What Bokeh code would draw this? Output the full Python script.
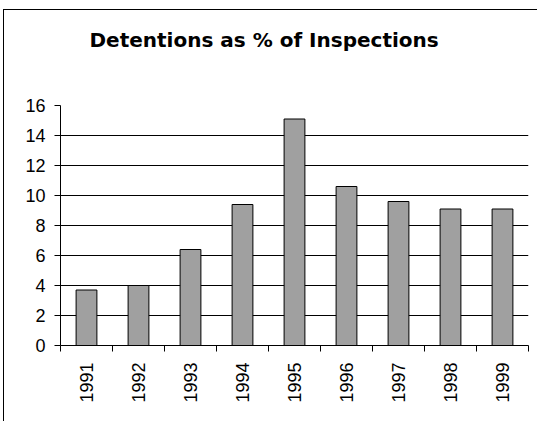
import math

from bokeh.embed import file_html
from bokeh.models import FixedTicker, Grid, Range1d, Title
from bokeh.plotting import figure
from bokeh.resources import INLINE

# Detention rate per year, in percent of inspections
years = [1991, 1992, 1993, 1994, 1995, 1996, 1997, 1998, 1999]
detention_pct = [3.7, 4.0, 6.4, 9.4, 15.1, 10.6, 9.6, 9.1, 9.1]
y_ticks = [0, 2, 4, 6, 8, 10, 12, 14, 16]

title_text = "Detentions as % of Inspections"

p = figure(
    width=534,
    height=412,
    title=None,
    x_range=Range1d(years[0] - 0.5, years[-1] + 0.5),
    y_range=Range1d(y_ticks[0], y_ticks[-1]),
    output_backend="svg",
    toolbar_location=None,
    min_border_left=56,
    min_border_right=10,
    min_border_top=95,
    min_border_bottom=77,
    background_fill_color="white",
    border_fill_color="white",
)
# chart-area frame: thin black edge on the left and top
p.styles = {
    "margin-left": "3px",
    "margin-top": "9px",
    "border-left": "1px solid black",
    "border-top": "1px solid black",
}

# blank spacer title next to the frame lifts the real title higher up
p.add_layout(Title(text=" ", text_font="DejaVu Sans", text_font_size="20px",
                   standoff=28), "above")
p.add_layout(Title(text=title_text, text_font="DejaVu Sans",
                   text_font_style="bold", text_font_size="20px",
                   text_color="black", align="left", offset=29, standoff=0),
             "above")

p.outline_line_color = None

# bars
p.vbar(x=years, top=detention_pct, width=0.4,
       fill_color="#A0A0A0", line_color="black", line_width=1)

# x axis: labels under each bar, tick marks between categories
bounds = [y - 0.5 for y in years] + [years[-1] + 0.5]
xa = p.xaxis[0]
xa.ticker = FixedTicker(ticks=years, minor_ticks=bounds)
xa.major_tick_out = 0
xa.major_tick_in = 0
xa.minor_tick_out = 6
xa.minor_tick_in = 0
xa.minor_tick_line_color = "black"
xa.axis_line_color = "black"
xa.major_label_orientation = math.pi / 2
xa.major_label_standoff = 11
xa.major_label_text_font = "Liberation Sans"
xa.major_label_text_font_size = "18px"
xa.major_label_text_color = "black"

# y axis
ya = p.yaxis[0]
ya.ticker = FixedTicker(ticks=y_ticks)
ya.major_tick_out = 6
ya.major_tick_in = 0
ya.minor_tick_out = 0
ya.minor_tick_in = 0
ya.major_tick_line_color = "black"
ya.axis_line_color = "black"
ya.major_label_standoff = 9
ya.major_label_text_font = "Liberation Sans"
ya.major_label_text_font_size = "18px"
ya.major_label_text_color = "black"

# gridlines
p.xgrid.visible = False
p.ygrid.ticker = FixedTicker(ticks=y_ticks[:-1])
p.ygrid.grid_line_color = "black"
p.ygrid.grid_line_width = 1

# grey plot-area edge on top and right
p.add_layout(Grid(dimension=1, ticker=FixedTicker(ticks=[y_ticks[-1]]),
                  grid_line_color="#8C8C8C", grid_line_width=2))
p.add_layout(Grid(dimension=0, ticker=FixedTicker(ticks=[years[-1] + 0.5]),
                  grid_line_color="#8C8C8C", grid_line_width=2))

open("out.html", "w").write(file_html(p, INLINE))
